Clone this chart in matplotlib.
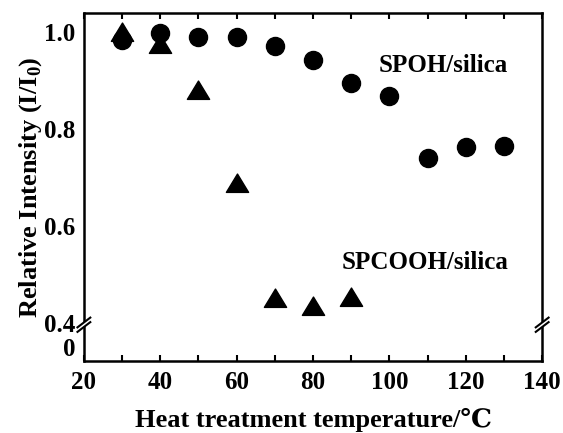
import matplotlib.pyplot as plt
import numpy as np
from matplotlib.patches import Polygon
from matplotlib.path import Path

# data
temp_spoh = [30, 40, 50, 60, 70, 80, 90, 100, 110, 120, 130]
spoh = [0.983, 0.998, 0.99, 0.99, 0.971, 0.942, 0.895, 0.868, 0.74, 0.763, 0.765]
temp_spcooh = [30, 40, 50, 60, 70, 80, 90]
spcooh = [1.0, 0.976, 0.88, 0.689, 0.453, 0.435, 0.454]

x_ticks = [20, 40, 60, 80, 100, 120, 140]
y_ticks = [0, 0.4, 0.6, 0.8, 1.0]
y_ticklabels = ['0', '0.4', '0.6', '0.8', '1.0']

BREAK = 0.4
GAP = 0.078  # compressed height of the 0..0.4 part


def fwd(y):
    y = np.asarray(y, dtype=float)
    return np.where(y >= BREAK, y - BREAK + GAP, y * GAP / BREAK)


def inv(t):
    t = np.asarray(t, dtype=float)
    return np.where(t >= GAP, t - GAP + BREAK, t * BREAK / GAP)


plt.rcParams['font.family'] = ['Liberation Serif', 'DejaVu Serif']
plt.rcParams['font.weight'] = 'bold'
plt.rcParams['mathtext.fontset'] = 'custom'
plt.rcParams['mathtext.bf'] = 'Liberation Serif:bold'

fig = plt.figure(figsize=(5.63, 4.33), dpi=100)
ax = fig.add_axes([0.149, 0.166, 0.814, 0.804])
ax.set_yscale('function', functions=(fwd, inv))

# a wide, flat triangle like the reference markers
tri = Path([(-1, -0.8), (1, -0.8), (0, 0.85), (-1, -0.8)],
           [Path.MOVETO, Path.LINETO, Path.LINETO, Path.CLOSEPOLY])

ax.plot(temp_spoh, spoh, 'o', color='black', markersize=13, linestyle='none')
ax.plot(temp_spcooh, spcooh, marker=tri, color='black', markersize=16,
        linestyle='none')

ax.set_xlim(20, 140)
ax.set_ylim(0, 1.039)
ax.set_xticks(x_ticks)
ax.set_xticks(np.arange(20, 141, 10), minor=True)
ax.set_yticks(y_ticks)
ax.set_yticklabels(y_ticklabels)
ax.yaxis.set_minor_locator(plt.NullLocator())

ax.tick_params(axis='x', which='both', direction='in', top=True, length=4,
               width=1.5, labelsize=18, pad=7)
ax.tick_params(axis='y', length=0, labelsize=18, pad=6)
for s in ax.spines.values():
    s.set_linewidth(1.8)

# the "0" label sits above the bottom spine in the reference
ax.get_yticklabels()[0].set_va('bottom')

ax.text(0.784, 0.848, 'SPOH/silica', transform=ax.transAxes, ha='center',
        va='center', fontsize=18, fontweight='bold')
ax.text(0.745, 0.282, 'SPCOOH/silica', transform=ax.transAxes, ha='center',
        va='center', fontsize=18, fontweight='bold')

ax.set_xlabel('Heat treatment temperature/\u2103', fontsize=19,
              fontweight='bold', labelpad=10)
ax.set_ylabel('Relative Intensity (I/I$_\\mathbf{0}$)', fontsize=19,
              fontweight='bold', labelpad=0)

# axis break marks on both side spines
for xa in (0.0, 1.0):
    yb = 0.098
    dx, dy = 0.014, 0.014
    sep = 0.013
    gap = Polygon([(xa - dx, yb - dy), (xa + dx, yb + dy),
                   (xa + dx, yb + dy + sep), (xa - dx, yb - dy + sep)],
                  closed=True, transform=ax.transAxes, facecolor='white',
                  edgecolor='none', clip_on=False, zorder=5)
    ax.add_patch(gap)
    for off in (0, sep):
        ax.plot([xa - dx, xa + dx], [yb - dy + off, yb + dy + off],
                transform=ax.transAxes, color='black', lw=1.5,
                clip_on=False, zorder=6)

fig.savefig('out.png', dpi=100)
